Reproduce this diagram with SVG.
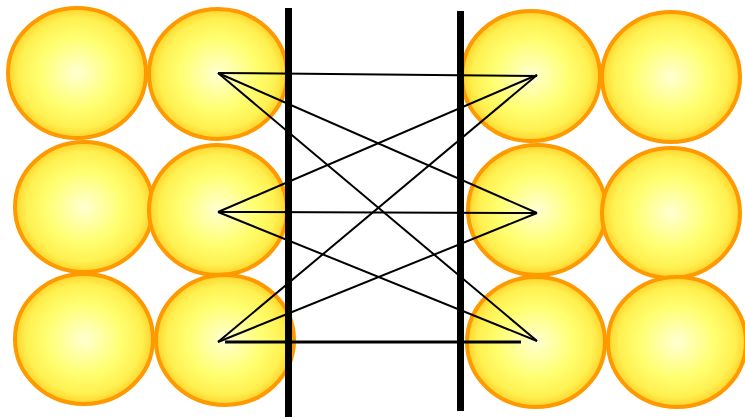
<svg xmlns="http://www.w3.org/2000/svg" width="745" height="419" viewBox="0 0 745 419">
<defs>
<radialGradient id="g" cx="50%" cy="50%" r="50%">
<stop offset="0" stop-color="#ffffd2"/>
<stop offset="0.55" stop-color="#ffff70"/>
<stop offset="0.85" stop-color="#fff050"/>
<stop offset="1" stop-color="#ffd22a"/>
</radialGradient>
<style>
.b{fill:url(#g);stroke:#ff9900;stroke-width:4}
.c line{stroke:#000;stroke-width:2}
.w{stroke:#000;stroke-width:7}
</style>
</defs>
<rect width="745" height="419" fill="#fff"/>
<g id="n1"><ellipse class="b" cx="77" cy="73" rx="69" ry="65"/></g>
<g id="n2"><ellipse class="b" cx="218" cy="74" rx="69" ry="65"/></g>
<g id="n3"><ellipse class="b" cx="84" cy="207" rx="69" ry="65"/></g>
<g id="n4"><ellipse class="b" cx="218" cy="210" rx="69" ry="65"/></g>
<g id="n5"><ellipse class="b" cx="84" cy="339" rx="69" ry="65"/></g>
<g id="n6"><ellipse class="b" cx="225" cy="340" rx="69" ry="65"/></g>
<g id="n7"><ellipse class="b" cx="531" cy="76" rx="69" ry="65"/></g>
<g id="n8"><ellipse class="b" cx="671" cy="77" rx="69" ry="65"/></g>
<g id="n9"><ellipse class="b" cx="537" cy="210" rx="69" ry="65"/></g>
<g id="n10"><ellipse class="b" cx="671" cy="213" rx="69" ry="65"/></g>
<g id="n11"><ellipse class="b" cx="536" cy="342" rx="69" ry="65"/></g>
<g id="n12"><ellipse class="b" cx="677" cy="342" rx="69" ry="65"/></g>
<g id="walls">
<line class="w" x1="288.5" y1="8" x2="288.5" y2="417"/>
<line class="w" x1="460.5" y1="11" x2="460.5" y2="411"/>
</g>
<g id="connectors" class="c">
<line x1="218" y1="73" x2="537" y2="76"/>
<line x1="218" y1="73" x2="537" y2="213"/>
<line x1="218" y1="73" x2="537" y2="341"/>
<line x1="218" y1="212" x2="537" y2="75"/>
<line x1="218" y1="212" x2="537" y2="213"/>
<line x1="218" y1="212" x2="537" y2="341"/>
<line x1="218" y1="342" x2="537" y2="75"/>
<line x1="218" y1="342" x2="537" y2="213"/>
<line x1="225" y1="342" x2="521" y2="342" style="stroke-width:3"/>
</g>
</svg>
